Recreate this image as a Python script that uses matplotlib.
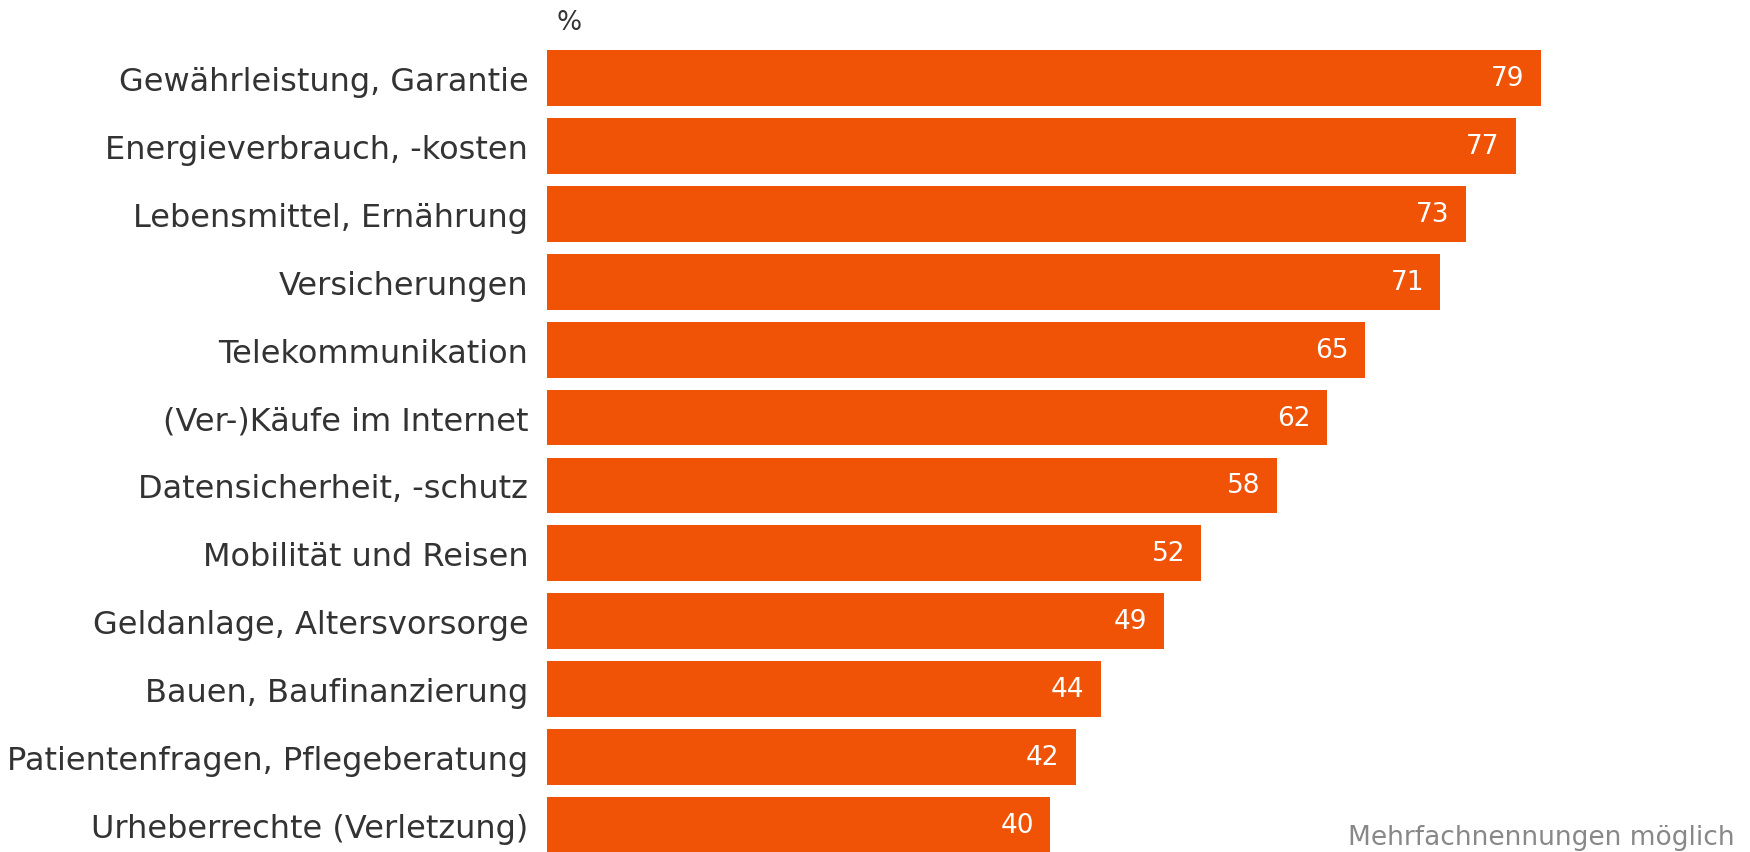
import matplotlib.pyplot as plt

# Themen und Anteile in Prozent
themen = ['Gewährleistung, Garantie', 'Energieverbrauch, -kosten', 'Lebensmittel, Ernährung',
          'Versicherungen', 'Telekommunikation', '(Ver-)Käufe im Internet',
          'Datensicherheit, -schutz', 'Mobilität und Reisen', 'Geldanlage, Altersvorsorge',
          'Bauen, Baufinanzierung', 'Patientenfragen, Pflegeberatung', 'Urheberrechte (Verletzung)']
anteile = [79, 77, 73, 71, 65, 62, 58, 52, 49, 44, 42, 40]

plt.rcParams['font.family'] = ['DejaVu Sans']

fig = plt.figure(figsize=(17.5, 8.53), dpi=100)
ax = fig.add_axes([0.3126, 0.0, 0.6874, 0.947])

pos = range(len(themen))
ax.barh(pos, anteile, height=0.82, color='#F05206')

# Werte rechts innen in den Balken
for i, v in enumerate(anteile):
    ax.text(v - 1.3, i, str(v), ha='right', va='center', color='white', fontsize=19)

ax.set_yticks(list(pos))
ax.set_yticklabels(themen, fontsize=23, color='#333333')
ax.tick_params(axis='y', length=0, pad=13.5)
ax.set_xticks([])
ax.set_xlim(0, 95.6)
ax.set_ylim(11.40, -0.5)
for s in ax.spines.values():
    s.set_visible(False)

fig.text(557 / 1750, 1 - 23 / 853, '%', ha='left', va='center', fontsize=19, color='#333333')
fig.text(1735 / 1750, 1 - 838 / 853, 'Mehrfachnennungen möglich', ha='right', va='center',
         fontsize=19, color='#888888')

fig.savefig('out.png', dpi=100)
